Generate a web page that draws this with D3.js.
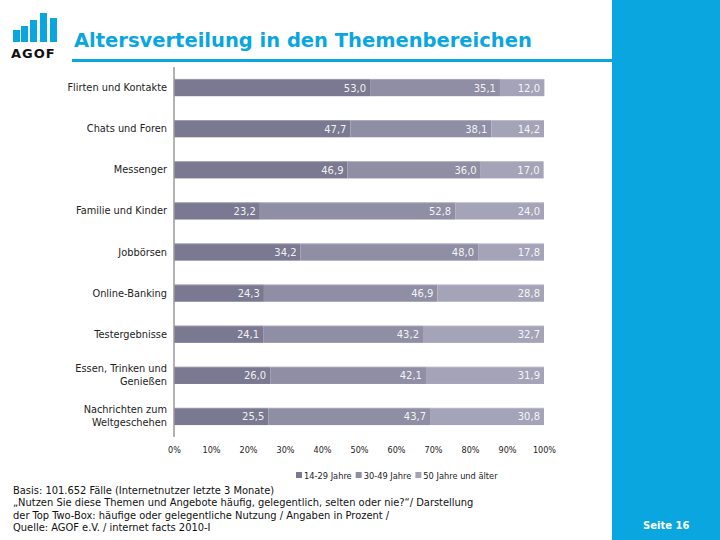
<!DOCTYPE html>
<html>
<head>
<meta charset="utf-8">
<script src="https://cdn.jsdelivr.net/npm/d3@7"></script>
<style>
  body { margin: 0; background: #fff; }
  svg { display: block; }
</style>
</head>
<body>
<script>
// chart data
const categories = ["Flirten und Kontakte", "Chats und Foren", "Messenger", "Familie und Kinder",
    "Jobbörsen", "Online-Banking", "Testergebnisse", "Essen, Trinken und\nGenießen",
    "Nachrichten zum\nWeltgeschehen"];
const seriesNames = ["14-29 Jahre", "30-49 Jahre", "50 Jahre und älter"];
const young = [53.0, 47.7, 46.9, 23.2, 34.2, 24.3, 24.1, 26.0, 25.5];
const middle = [35.1, 38.1, 36.0, 52.8, 48.0, 46.9, 43.2, 42.1, 43.7];
const old = [12.0, 14.2, 17.0, 24.0, 17.8, 28.8, 32.7, 31.9, 30.8];
const ticks = [0, 10, 20, 30, 40, 50, 60, 70, 80, 90, 100];
const footnotes = [
    "Basis: 101.652 Fälle (Internetnutzer letzte 3 Monate)",
    "„Nutzen Sie diese Themen und Angebote häufig, gelegentlich, selten oder nie?“/ Darstellung",
    "der Top Two-Box: häufige oder gelegentliche Nutzung / Angaben in Prozent /",
    "Quelle: AGOF e.V. / internet facts 2010-I"
];

const colors = ["#7a7991", "#8f8ea4", "#a4a3b7"];
const blue = "#0aa6df";

const W = 720, H = 540;
const svg = d3.select("body").append("svg")
    .attr("width", W)
    .attr("height", H);

// blue side panel
svg.append("rect")
    .attr("x", 612).attr("y", 0)
    .attr("width", W - 612).attr("height", H)
    .attr("fill", blue);

svg.append("text")
    .attr("x", 643).attr("y", 529)
    .attr("fill", "#fff")
    .attr("font-family", "DejaVu Sans")
    .attr("font-weight", "bold")
    .attr("font-size", 10)
    .text("Seite 16");

// logo
const logo = svg.append("g");
[[13, 30], [21, 26], [30, 20], [40, 13], [50, 18]].forEach(function (b) {
    logo.append("rect")
        .attr("x", b[0]).attr("y", b[1])
        .attr("width", 7).attr("height", 42 - b[1])
        .attr("fill", blue);
});
logo.append("text")
    .attr("x", 11).attr("y", 58)
    .attr("font-family", "DejaVu Sans")
    .attr("font-weight", "bold")
    .attr("font-size", 13)
    .attr("letter-spacing", 1)
    .attr("fill", "#111")
    .text("AGOF");

// title
svg.append("text")
    .attr("x", 74).attr("y", 47)
    .attr("fill", blue)
    .attr("font-family", "DejaVu Sans")
    .attr("font-weight", "bold")
    .attr("font-size", 19.5)
    .text("Altersverteilung in den Themenbereichen");

svg.append("rect")
    .attr("x", 72).attr("y", 59)
    .attr("width", 540).attr("height", 3)
    .attr("fill", blue);

// scales
const x = d3.scaleLinear().domain([0, 100]).range([174, 544]);
const y = d3.scaleBand().domain(categories).range([67, 437])
    .paddingInner(0.58).paddingOuter(0.29);

const stackData = categories.map(function (c, i) {
    return {cat: c, s0: young[i], s1: middle[i], s2: old[i]};
});
const stack = d3.stack().keys(["s0", "s1", "s2"]);
const layers = stack(stackData);

const g = svg.append("g");
layers.forEach(function (layer, li) {
    const grp = g.append("g");
    grp.selectAll("rect")
        .data(layer)
        .join("rect")
        .attr("x", d => x(d[0]))
        .attr("y", d => y(d.data.cat))
        .attr("width", d => x(d[1]) - x(d[0]))
        .attr("height", y.bandwidth())
        .attr("fill", colors[li]);
    // light top edge
    grp.selectAll("line")
        .data(layer)
        .join("line")
        .attr("x1", d => x(d[0]))
        .attr("x2", d => x(d[1]))
        .attr("y1", d => y(d.data.cat) + 0.5)
        .attr("y2", d => y(d.data.cat) + 0.5)
        .attr("stroke", "#fff")
        .attr("stroke-opacity", 0.25);
    grp.selectAll("text")
        .data(layer)
        .join("text")
        .attr("x", d => x(Math.min(d[1], 100)) - 4)
        .attr("y", d => y(d.data.cat) + y.bandwidth() / 2 + 4)
        .attr("text-anchor", "end")
        .attr("fill", "#fff")
        .attr("fill-opacity", 0.92)
        .attr("font-family", "DejaVu Sans")
        .attr("font-size", 10)
        .text(d => (d[1] - d[0]).toFixed(1).replace(".", ","));
});

// vertical axis line
svg.append("line")
    .attr("x1", x(0)).attr("x2", x(0))
    .attr("y1", 67).attr("y2", 437)
    .attr("stroke", "#9a9a9a")
    .attr("stroke-width", 1.5);

// category labels
const labels = svg.append("g")
    .attr("font-family", "DejaVu Sans")
    .attr("font-size", 9.8)
    .attr("fill", "#222")
    .attr("text-anchor", "end");
categories.forEach(function (c) {
    const lines = c.split("\n");
    const cy = y(c) + y.bandwidth() / 2;
    const t = labels.append("text");
    lines.forEach(function (l, i) {
        t.append("tspan")
            .attr("x", 167)
            .attr("y", cy + 3.5 + (i - (lines.length - 1) / 2) * 13)
            .text(l);
    });
});

// x axis
const xAxis = svg.append("g")
    .attr("transform", "translate(0,444)")
    .call(d3.axisBottom(x).tickValues(ticks).tickSize(0).tickFormat(d => d + "%"));
xAxis.select(".domain").remove();
xAxis.selectAll("text")
    .attr("font-family", "DejaVu Sans Condensed")
    .attr("font-size", 9)
    .attr("fill", "#222");

// legend
const legend = svg.append("g")
    .attr("font-family", "DejaVu Sans Condensed")
    .attr("font-size", 9.2)
    .attr("fill", "#222");
let lx = 296;
seriesNames.forEach(function (n, i) {
    legend.append("rect")
        .attr("x", lx).attr("y", 472)
        .attr("width", 6).attr("height", 6)
        .attr("fill", colors[i]);
    const t = legend.append("text")
        .attr("x", lx + 8).attr("y", 479)
        .text(n);
    lx += 8 + t.node().getComputedTextLength() + 4;
});

// footnotes
const foot = svg.append("g")
    .attr("font-family", "DejaVu Sans Condensed")
    .attr("font-size", 11)
    .attr("fill", "#111");
footnotes.forEach(function (f, i) {
    foot.append("text")
        .attr("x", 13)
        .attr("y", 494 + i * 12.3)
        .text(f);
});
</script>
</body>
</html>
